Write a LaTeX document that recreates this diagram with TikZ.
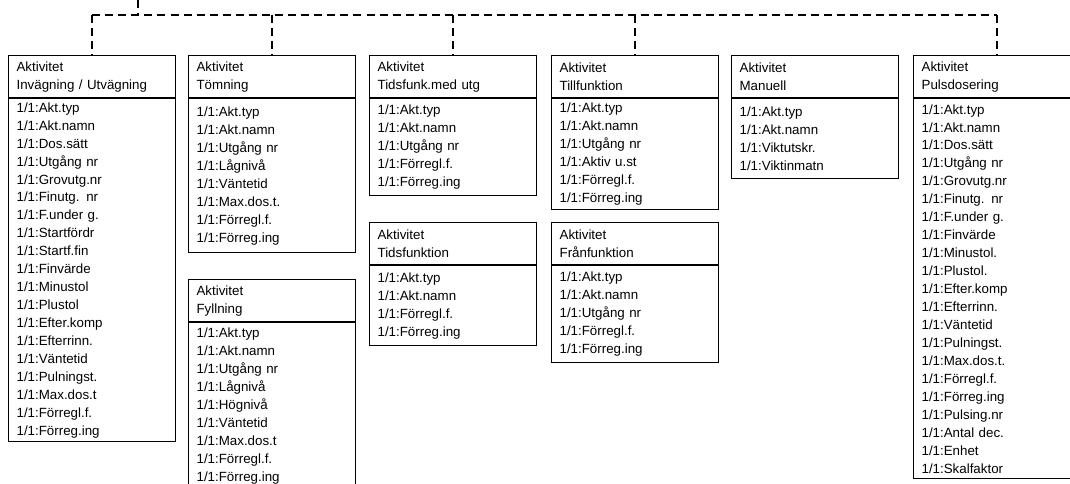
\documentclass[tikz,border=0pt]{standalone}
\usepackage{fontspec}
\setmainfont{Liberation Sans}
\usetikzlibrary{calc}

\tikzset{
  acthead/.style={draw, line width=0.9pt, anchor=north west, text width=113.25pt,
    inner xsep=6pt, inner ysep=1pt, minimum height=31.5pt, align=left,
    font=\fontsize{10}{13.46}\selectfont},
  actbody/.style={acthead, minimum height=#1*0.75pt},
  bus/.style={line width=1.8pt, dash pattern=on 6pt off 3.8pt},
}

\begin{document}
\begin{tikzpicture}[x=0.75pt, y=-0.75pt]
    \useasboundingbox (0,0) rectangle (1070,484);
    \clip (0,0) rectangle (1070,484);

    % Column 1: Invägning / Utvägning
    \node[acthead] (ainv-h) at (8,55) {Aktivitet\\Invägning / Utvägning};
    \node[actbody=343] (ainv-b) at (ainv-h.south west) {1/1:Akt.typ\\1/1:Akt.namn\\1/1:Dos.sätt\\1/1:Utgång nr\\1/1:Grovutg.nr\\1/1:Finutg. nr\\1/1:F.under g.\\1/1:Startfördr\\1/1:Startf.fin\\1/1:Finvärde\\1/1:Minustol\\1/1:Plustol\\1/1:Efter.komp\\1/1:Efterrinn.\\1/1:Väntetid\\1/1:Pulningst.\\1/1:Max.dos.t\\1/1:Förregl.f.\\1/1:Förreg.ing};

    % Column 2: Tömning, Fyllning
    \node[acthead] (toem-h) at (188,55) {Aktivitet\\Tömning};
    \node[actbody=154] (toem-b) at (toem-h.south west) {1/1:Akt.typ\\1/1:Akt.namn\\1/1:Utgång nr\\1/1:Lågnivå\\1/1:Väntetid\\1/1:Max.dos.t.\\1/1:Förregl.f.\\1/1:Förreg.ing};
    \node[acthead] (fyll-h) at (188,279) {Aktivitet\\Fyllning};
    \node[actbody=166] (fyll-b) at (fyll-h.south west) {1/1:Akt.typ\\1/1:Akt.namn\\1/1:Utgång nr\\1/1:Lågnivå\\1/1:Högnivå\\1/1:Väntetid\\1/1:Max.dos.t\\1/1:Förregl.f.\\1/1:Förreg.ing};

    % Column 3: Tidsfunk.med utg, Tidsfunktion
    \node[acthead] (tfmu-h) at (369,55) {Aktivitet\\Tidsfunk.med utg};
    \node[actbody=97] (tfmu-b) at (tfmu-h.south west) {1/1:Akt.typ\\1/1:Akt.namn\\1/1:Utgång nr\\1/1:Förregl.f.\\1/1:Förreg.ing};
    \node[acthead] (tfun-h) at (369,222) {Aktivitet\\Tidsfunktion};
    \node[actbody=80] (tfun-b) at (tfun-h.south west) {1/1:Akt.typ\\1/1:Akt.namn\\1/1:Förregl.f.\\1/1:Förreg.ing};

    % Column 4: Tillfunktion, Frånfunktion
    \node[acthead] (till-h) at (551,55) {Aktivitet\\Tillfunktion};
    \node[actbody=111] (till-b) at (till-h.south west) {1/1:Akt.typ\\1/1:Akt.namn\\1/1:Utgång nr\\1/1:Aktiv u.st\\1/1:Förregl.f.\\1/1:Förreg.ing};
    \node[acthead] (fran-h) at (551,222) {Aktivitet\\Frånfunktion};
    \node[actbody=97] (fran-b) at (fran-h.south west) {1/1:Akt.typ\\1/1:Akt.namn\\1/1:Utgång nr\\1/1:Förregl.f.\\1/1:Förreg.ing};

    % Column 5: Manuell
    \node[acthead] (manu-h) at (731,55) {Aktivitet\\Manuell};
    \node[actbody=80] (manu-b) at (manu-h.south west) {1/1:Akt.typ\\1/1:Akt.namn\\1/1:Viktutskr.\\1/1:Viktinmatn};

    % Column 6: Pulsdosering
    \node[acthead] (puls-h) at (913,55) {Aktivitet\\Pulsdosering};
    \node[actbody=380] (puls-b) at (puls-h.south west) {1/1:Akt.typ\\1/1:Akt.namn\\1/1:Dos.sätt\\1/1:Utgång nr\\1/1:Grovutg.nr\\1/1:Finutg. nr\\1/1:F.under g.\\1/1:Finvärde\\1/1:Minustol.\\1/1:Plustol.\\1/1:Efter.komp\\1/1:Efterrinn.\\1/1:Väntetid\\1/1:Pulningst.\\1/1:Max.dos.t.\\1/1:Förregl.f.\\1/1:Förreg.ing\\1/1:Pulsing.nr\\1/1:Antal dec.\\1/1:Enhet\\1/1:Skalfaktor};

    % Dashed bus from the top
    \coordinate (root) at (138,0);
    \coordinate (busy) at (0,15);
    \draw[bus] (root) -- (root |- busy);
    \draw[bus] (ainv-h.north |- busy) -- (puls-h.north |- busy);
    \foreach \n in {ainv,toem,tfmu,till,puls}
        \draw[bus] (\n-h.north |- busy) -- (\n-h.north);
    \draw[bus] ($(manu-h.north)+(-36,0)$ |- busy) -- ($(manu-h.north)+(-36,0)$);
\end{tikzpicture}
\end{document}
